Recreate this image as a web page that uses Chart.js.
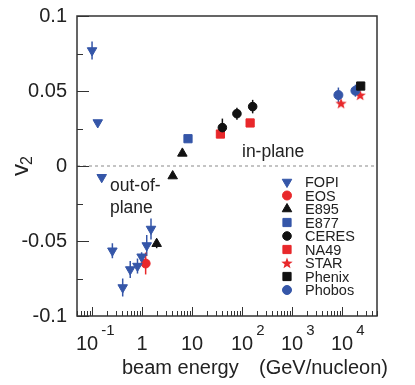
<!DOCTYPE html>
<html>
<head>
<meta charset="utf-8">
<script src="https://cdn.jsdelivr.net/npm/chart.js@4.4.1/dist/chart.umd.min.js"></script>
<style>
  body { margin: 0; background: #fff; }
  #wrap { width: 415px; height: 385px; }
</style>
</head>
<body>
<div id="wrap"><canvas id="flow" width="415" height="385"></canvas></div>
<script>
// beam energy (GeV/nucleon), v2 and error, per experiment
const fopiE = [0.1, 0.13, 0.156, 0.255, 0.41, 0.58, 0.81, 0.98, 1.24, 1.51];
const fopiV2 = [0.077, 0.029, -0.0075, -0.0565, -0.081, -0.069, -0.0667, -0.0605, -0.053, -0.042];
const fopiErr = [0.006, 0, 0, 0.005, 0.006, 0.0057, 0.005, 0.003, 0.007, 0.007];

const eosE = [1.18];
const eosV2 = [-0.065];
const eosErr = [0.0073];

const e895E = [1.96, 4.1, 6.4];
const e895V2 = [-0.0518, -0.0067, 0.0084];
const e895Err = [0.003, 0, 0];

const e877E = [8.3];
const e877V2 = [0.0182];

const ceresE = [40.4, 79, 163];
const ceresV2 = [0.0256, 0.0349, 0.0396];
const ceresErr = [0.006, 0.004, 0.0045];

const na49E = [36.9, 145];
const na49V2 = [0.0213, 0.0287];

const starE = [9550, 23000];
const starV2 = [0.0418, 0.0473];

const phenixE = [23600];
const phenixV2 = [0.0533];

const phobosE = [8450, 18500];
const phobosV2 = [0.0473, 0.0502];
const phobosErr = [0.005, 0.004];

// axis labels
const yTickValues = [-0.1, -0.05, 0, 0.05, 0.1];
const yTickLabels = ["-0.1", "-0.05", "0", "0.05", "0.1"];
const yMinorTicks = [-0.075, -0.025, 0.025, 0.075];
const xTickValues = [0.1, 1, 10, 100, 1000, 10000];
const xTickBase = ["10", "1", "10", "10", "10", "10"];
const xTickExp = ["-1", "", "", "2", "3", "4"];

const FONT = "'Liberation Sans', Arial, Helvetica, sans-serif";
const BLUE = "#3556a8";
const RED = "#e8282b";
const BLACK = "#111111";

function makeStar(color, size) {
  const c = document.createElement("canvas");
  c.width = size; c.height = size;
  const g = c.getContext("2d");
  const R = size / 2, r = R * 0.42;
  g.beginPath();
  for (let i = 0; i < 10; i++) {
    const a = -Math.PI / 2 + i * Math.PI / 5;
    const rr = i % 2 ? r : R;
    g.lineTo(R + rr * Math.cos(a), R + 0.5 + rr * Math.sin(a));
  }
  g.closePath();
  g.fillStyle = color;
  g.fill();
  return c;
}
const starImg = makeStar(RED, 12);

function pts(xs, ys) {
  return xs.map((x, i) => ({ x: x, y: ys[i] }));
}

function series(label, xs, ys, errs, color, style, radius, rotation) {
  return {
    label: label,
    data: pts(xs, ys),
    err: errs || null,
    backgroundColor: color,
    borderColor: color,
    pointStyle: style,
    pointRadius: radius,
    pointRotation: rotation || 0,
    pointBorderWidth: 1,
    showLine: false
  };
}

const datasets = [
  series("Phenix", phenixE, phenixV2, null, BLACK, "rect", 5.8),
  series("FOPI", fopiE, fopiV2, fopiErr, BLUE, "triangle", 5.5, 180),
  series("EOS", eosE, eosV2, eosErr, RED, "circle", 4.5),
  series("E895", e895E, e895V2, e895Err, BLACK, "triangle", 5.5),
  series("E877", e877E, e877V2, null, BLUE, "rect", 5.8),
  series("CERES", ceresE, ceresV2, ceresErr, BLACK, "circle", 4.3),
  series("NA49", na49E, na49V2, null, RED, "rect", 5.8),
  series("Phobos", phobosE, phobosV2, phobosErr, BLUE, "circle", 4.5),
  series("STAR", starE, starV2, null, RED, starImg, 6)
];
const legendOrder = ["FOPI", "EOS", "E895", "E877", "CERES", "NA49", "STAR", "Phenix", "Phobos"];

const decor = {
  id: "decor",
  beforeDatasetsDraw(chart) {
    const ctx = chart.ctx, xs = chart.scales.x, ys = chart.scales.y, a = chart.chartArea;
    ctx.save();
    // zero line
    ctx.strokeStyle = "#8a8a8a";
    ctx.lineWidth = 1;
    ctx.setLineDash([3, 3]);
    ctx.beginPath();
    ctx.moveTo(a.left, ys.getPixelForValue(0));
    ctx.lineTo(a.right, ys.getPixelForValue(0));
    ctx.stroke();
    ctx.setLineDash([]);
    // error bars
    chart.data.datasets.forEach(ds => {
      if (!ds.err) return;
      ctx.strokeStyle = ds.borderColor;
      ctx.lineWidth = 1.5;
      ds.data.forEach((p, i) => {
        const e = ds.err[i];
        if (!e) return;
        const px = xs.getPixelForValue(p.x);
        ctx.beginPath();
        ctx.moveTo(px, ys.getPixelForValue(p.y - e));
        ctx.lineTo(px, ys.getPixelForValue(p.y + e));
        ctx.stroke();
      });
    });
    ctx.restore();
  },
  afterDraw(chart) {
    const ctx = chart.ctx, xs = chart.scales.x, ys = chart.scales.y, a = chart.chartArea;
    ctx.save();
    // frame
    ctx.strokeStyle = "#333";
    ctx.lineWidth = 1.5;
    ctx.strokeRect(a.left, a.top, a.right - a.left, a.bottom - a.top);
    // y tick marks
    ctx.lineWidth = 1;
    ctx.beginPath();
    yTickValues.forEach(v => {
      const py = Math.round(ys.getPixelForValue(v)) + 0.5;
      ctx.moveTo(a.left, py); ctx.lineTo(a.left + 12, py);
    });
    yMinorTicks.forEach(v => {
      const py = Math.round(ys.getPixelForValue(v)) + 0.5;
      ctx.moveTo(a.left, py); ctx.lineTo(a.left + 6, py);
    });
    // x tick marks
    for (let d = -2; d <= 4; d++) {
      for (let k = 1; k <= 9; k++) {
        const v = k * Math.pow(10, d);
        if (v < xs.min || v > xs.max) continue;
        const px = Math.round(xs.getPixelForValue(v)) + 0.5;
        ctx.moveTo(px, a.bottom);
        ctx.lineTo(px, a.bottom - (k === 1 ? 9 : 5));
      }
    }
    ctx.stroke();
    // x tick labels
    ctx.fillStyle = "#222";
    ctx.textBaseline = "alphabetic";
    xTickValues.forEach((v, i) => {
      const px = xs.getPixelForValue(v);
      ctx.font = "20px " + FONT;
      const bw = ctx.measureText(xTickBase[i]).width;
      let bx = px - bw / 2;
      if (xTickExp[i].startsWith("-")) bx -= 5;
      ctx.textAlign = "left";
      ctx.fillText(xTickBase[i], bx, 350);
      if (xTickExp[i]) {
        ctx.font = "15px " + FONT;
        ctx.fillText(xTickExp[i], bx + bw + 3, 335);
      }
    });
    // axis titles
    ctx.font = "20px " + FONT;
    ctx.textAlign = "left";
    ctx.fillText("beam energy", 122, 374);
    ctx.fillText("(GeV/nucleon)", 259, 374);
    ctx.save();
    ctx.translate(28, 176);
    ctx.rotate(-Math.PI / 2);
    ctx.font = "24px " + FONT;
    ctx.fillText("v", 0, 0);
    ctx.font = "16px " + FONT;
    ctx.fillText("2", 11, 4);
    ctx.restore();
    // annotations
    ctx.font = "17.5px " + FONT;
    ctx.fillText("in-plane", 242, 157);
    ctx.fillText("out-of-", 110, 191);
    ctx.fillText("plane", 110, 212.5);
    // legend
    ctx.font = "14.5px " + FONT;
    ctx.textBaseline = "middle";
    legendOrder.forEach((name, i) => {
      const ds = chart.data.datasets.find(d => d.label === name);
      const ly = 182 + i * 13.5;
      ctx.fillStyle = ds.backgroundColor;
      ctx.strokeStyle = ds.borderColor;
      ctx.lineWidth = 1;
      Chart.helpers.drawPoint(ctx, {
        pointStyle: ds.pointStyle,
        radius: ds.pointRadius,
        rotation: ds.pointRotation,
        borderWidth: 1
      }, 287, ly);
      ctx.fillStyle = "#222";
      ctx.fillText(name, 305, ly + 1);
    });
    ctx.restore();
  }
};

new Chart(document.getElementById("flow"), {
  type: "scatter",
  data: { datasets: datasets },
  options: {
    responsive: false,
    animation: false,
    layout: { padding: { top: 16, right: 38, left: 0, bottom: 0 } },
    plugins: { legend: { display: false }, tooltip: { enabled: false } },
    scales: {
      x: {
        type: "logarithmic",
        min: 0.05,
        max: 50000,
        grid: { display: false, drawTicks: false },
        border: { display: false },
        ticks: { display: false },
        afterFit(s) { s.height = 69; s.paddingLeft = 0; s.paddingRight = 0; }
      },
      y: {
        min: -0.1,
        max: 0.1,
        grid: { display: false, drawTicks: false },
        border: { display: false },
        afterBuildTicks(s) { s.ticks = yTickValues.map(v => ({ value: v })); },
        ticks: {
          padding: 10,
          color: "#222",
          font: { size: 20, family: FONT },
          callback: (v, i) => yTickLabels[i]
        },
        afterFit(s) { s.width = 77; s.paddingTop = 0; s.paddingBottom = 0; }
      }
    }
  },
  plugins: [decor]
});
</script>
</body>
</html>
